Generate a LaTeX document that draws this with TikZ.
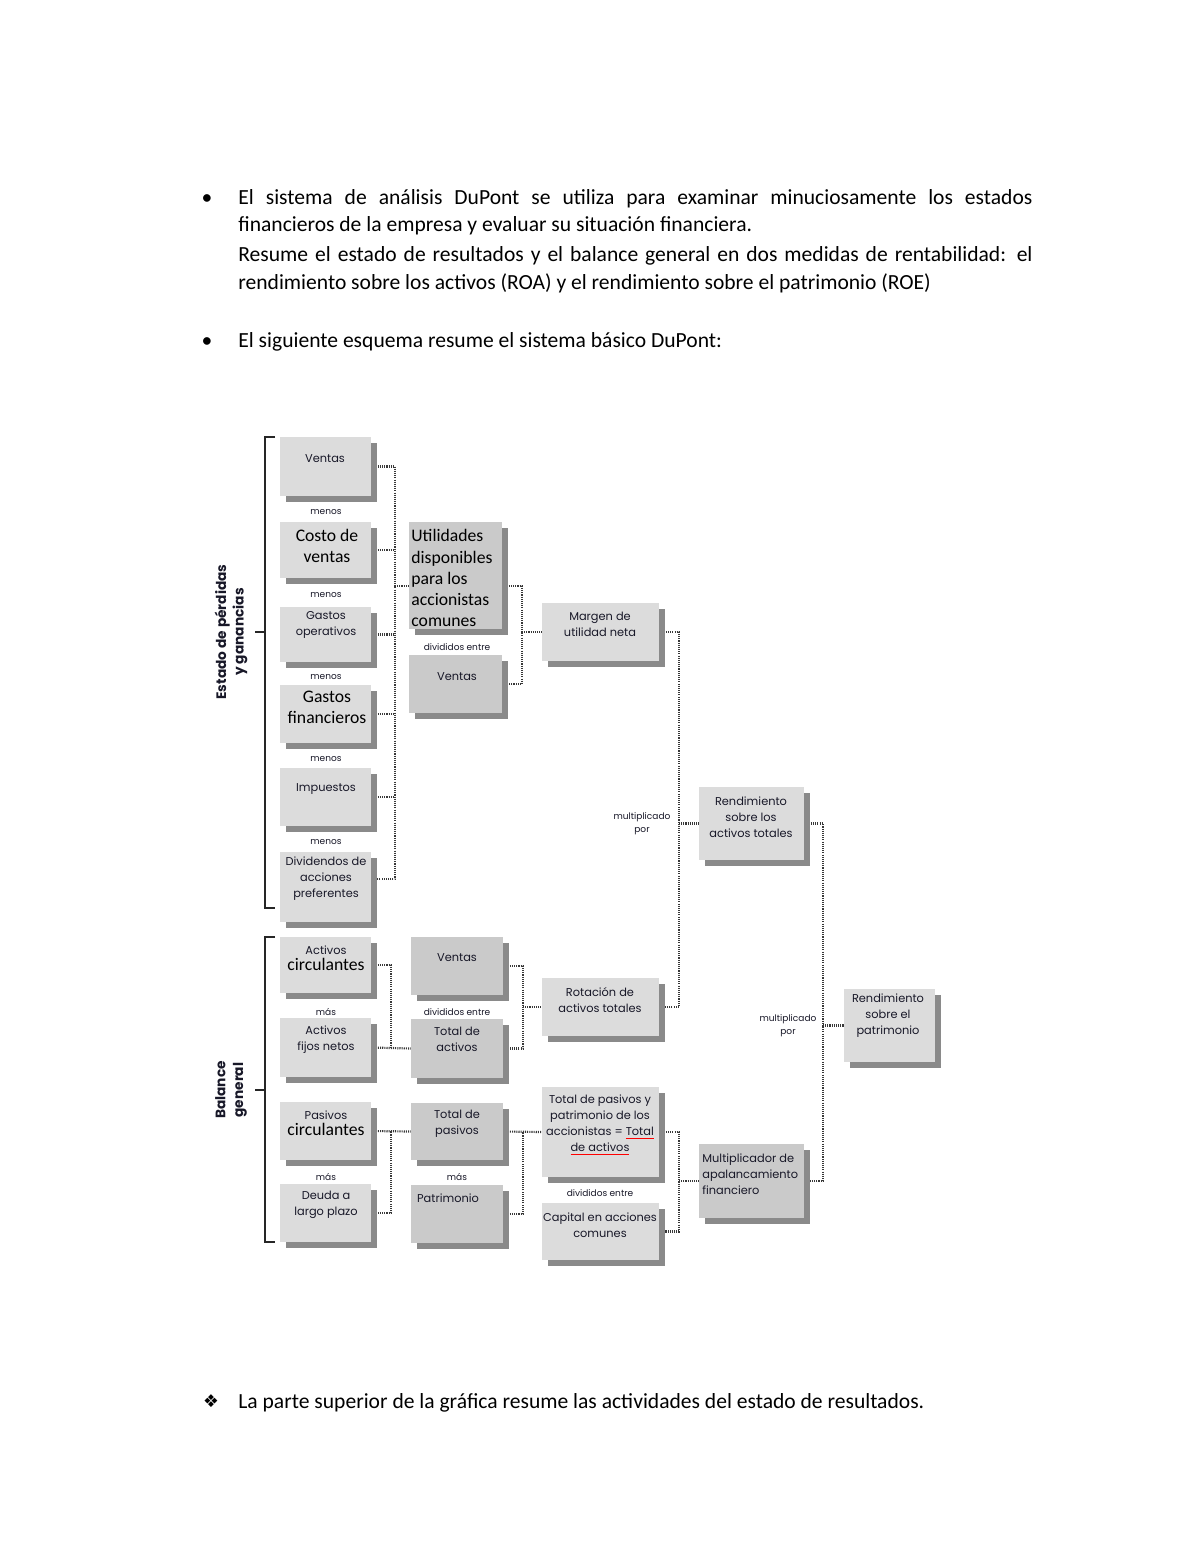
\documentclass[tikz,border=0pt]{standalone}
\usepackage{fontspec}
\setmainfont{Carlito}
\newfontfamily\pop{Poppins}
\newfontfamily\carl{Carlito}
\newfontfamily\djv{DejaVu Sans}
\usetikzlibrary{shadows}
\definecolor{lite}{HTML}{DCDCDC}
\definecolor{darkb}{HTML}{CACACA}
\definecolor{shd}{HTML}{8A8A8A}
\definecolor{ink}{HTML}{181828}
\definecolor{dotc}{HTML}{383838}
\pgfdeclarelayer{bg}
\pgfsetlayers{bg,main}
\newcommand\fa{\pop\fontsize{5.8}{8.2}\selectfont}
\newcommand\fs{\pop\fontsize{4.6}{6.8}\selectfont}
\newcommand\fc{\carl\fontsize{9}{10.8}\selectfont\color{black}}
\newcommand\ctab[1]{{\fc\begin{tabular}{@{}c@{}}#1\end{tabular}}}
\newcommand\redul[1]{\setbox0=\hbox{#1}\rlap{\color{red}\rule[-1.6pt]{\wd0}{0.6pt}}\box0}
\newcommand\dbox[9]{%
  \node[boxbase,fill=#6,minimum width={(#4-#2)*0.51pt},minimum height={(#5-#3)*0.51pt}] (#1) at ({(#2+#4)/2},{(#3+#5)/2}) {};
  \node[lbl] (#1t) at (#7,#8) {#9};}
\tikzset{
  boxbase/.style={rectangle,inner sep=0pt,draw=none,
    drop shadow={shadow xshift=3pt,shadow yshift=-3pt,fill=shd,opacity=1}},
  lbl/.style={inner sep=0pt,align=center,font=\fa,text=ink},
  sm/.style={inner sep=0pt,align=center,font=\fs,text=ink},
  conn/.style={draw=dotc,line width=1.1pt,dash pattern=on 0.55pt off 0.55pt},
  brk/.style={draw=black!85,line width=1pt},
  body/.style={anchor=base west,inner sep=0pt,font=\carl\fontsize{11}{13.4}\selectfont},
  blt/.style={anchor=base,inner sep=0pt,font=\carl\fontsize{11}{13.4}\selectfont}
}
\begin{document}
\begin{tikzpicture}[x=0.51pt,y=-0.51pt]
\useasboundingbox (0,0) rectangle (1200,1553);
\begin{pgfonlayer}{bg}
\fill[white] (0,0) rectangle (1200,1553);
\end{pgfonlayer}

% body text
\node[blt] (b1) at (207,204) {\textbullet};
\node[body] (l1) at (238,204) {\makebox[405pt][s]{El sistema de análisis DuPont se utiliza para examinar minuciosamente los estados}};
\node[body] (l2) at (238,232) {financieros de la empresa y evaluar su situación financiera.};
\node[body] (l3) at (238,261) {\makebox[405pt][s]{Resume el estado de resultados y el balance general en dos medidas de rentabilidad: el}};
\node[body] (l4) at (238,289) {rendimiento sobre los activos (ROA) y el rendimiento sobre el patrimonio (ROE)};
\node[blt] (b2) at (207,347) {\textbullet};
\node[body] (l5) at (238,347) {El siguiente esquema resume el sistema básico DuPont:};
\node[inner sep=0pt,font=\djv\fontsize{9}{11}\selectfont] (b3) at (211,1401) {❖};
\node[body] (l6) at (238,1408) {La parte superior de la gráfica resume las actividades del estado de resultados.};

% boxes: left column
\dbox{ventasA}{280}{437}{371}{496}{lite}{325}{459}{Ventas}
\dbox{costo}{280}{522}{371}{578}{lite}{327}{548}{\ctab{Costo de\\ventas}}
\dbox{gop}{280}{607}{371}{662}{lite}{326}{625}{Gastos\\operativos}
\dbox{gfin}{280}{685}{371}{743}{lite}{327}{709}{\ctab{Gastos\\financieros}}
\dbox{imp}{280}{768}{371}{826}{lite}{326}{789}{Impuestos}
\dbox{divp}{280}{852}{371}{922}{lite}{326}{879}{Dividendos de\\acciones\\preferentes}
\dbox{acirc}{280}{937}{371}{993}{lite}{326}{958}{Activos\\\fc circulantes}
\dbox{afij}{280}{1018}{371}{1077}{lite}{326}{1040}{Activos\\fijos netos}
\dbox{pcirc}{280}{1102}{371}{1160}{lite}{326}{1123}{Pasivos\\\fc circulantes}
\dbox{deuda}{280}{1184}{371}{1242}{lite}{326}{1205}{Deuda a\\largo plazo}

% second column
\node[boxbase,fill=darkb,minimum width={93*0.51pt},minimum height={107*0.51pt}] (util) at (455.5,575.5) {};
\node[inner sep=0pt,anchor=west,font=\fc] (utilt) at (411,580) {\begin{tabular}{@{}l@{}}Utilidades\\disponibles\\para los\\accionistas\\comunes\end{tabular}};
\dbox{ventasB}{409}{655}{502}{713}{darkb}{457}{677}{Ventas}
\dbox{ventasC}{411}{937}{503}{995}{darkb}{457}{958}{Ventas}
\dbox{tact}{411}{1019}{503}{1078}{darkb}{457}{1039}{Total de\\activos}
\dbox{tpas}{411}{1103}{503}{1160}{darkb}{457}{1124}{Total de\\pasivos}
\dbox{patr}{411}{1185}{503}{1243}{darkb}{448}{1198}{Patrimonio}

% third column
\dbox{margen}{542}{603}{659}{661}{lite}{600}{624}{Margen de\\utilidad neta}
\dbox{rot}{542}{978}{659}{1036}{lite}{600}{1000}{Rotación de\\activos totales}
\dbox{tpp}{542}{1087}{659}{1177}{lite}{600}{1125}{Total de pasivos y\\patrimonio de los\\accionistas = \redul{Total}\\\redul{de activos}}
\dbox{cap}{542}{1203}{659}{1260}{lite}{600}{1225}{Capital en acciones\\comunes}

% fourth / fifth columns
\dbox{roa}{699}{787}{804}{860}{lite}{751}{817}{Rendimiento\\sobre los\\activos totales}
\node[boxbase,fill=darkb,minimum width={105*0.51pt},minimum height={74*0.51pt}] (mult) at (751.5,1181) {};
\node[inner sep=0pt,anchor=west,font=\fa,text=ink] (multt) at (702,1175) {\begin{tabular}{@{}l@{}}Multiplicador de\\apalancamiento\\financiero\end{tabular}};
\dbox{roe}{844}{989}{935}{1062}{lite}{888}{1016}{Rendimiento\\sobre el\\patrimonio}

% small labels
\node[sm] (m1) at (326,512) {menos};
\node[sm] (m2) at (326,595) {menos};
\node[sm] (m3) at (326,677) {menos};
\node[sm] (m4) at (326,759) {menos};
\node[sm] (m5) at (326,842) {menos};
\node[sm] (d1) at (457,647) {divididos entre};
\node[sm] (x1) at (642,824) {multiplicado\\por};
\node[sm] (x2) at (788,1026) {multiplicado\\por};
\node[sm] (p1) at (326,1012) {más};
\node[sm] (d2) at (457,1012) {divididos entre};
\node[sm] (p2) at (326,1177) {más};
\node[sm] (p3) at (457,1177) {más};
\node[sm] (d3) at (600,1193) {divididos entre};

% brackets
\draw[brk] (275,437) -- (265,437) -- (265,908) -- (275,908);
\draw[brk] (265,632) -- (255,632);
\draw[brk] (275,937) -- (265,937) -- (265,1242) -- (275,1242);
\draw[brk] (265,1090) -- (255,1090);
\node[rotate=90,inner sep=0pt,align=center,font=\pop\bfseries\fontsize{7}{9}\selectfont,text=ink] (lab1) at (231,632) {Estado de pérdidas\\y ganancias};
\node[rotate=90,inner sep=0pt,align=center,font=\pop\bfseries\fontsize{7}{9}\selectfont,text=ink] (lab2) at (231,1090) {Balance\\general};

% junctions
\coordinate (jA) at (395,586);
\coordinate (jB) at (522,632);
\coordinate (jC) at (679,823.5);
\coordinate (jD) at (823,1025.5);
\coordinate (jE) at (391,1047.5);
\coordinate (jF) at (523,1007);
\coordinate (jG) at (391,1131);
\coordinate (jH) at (523,1131.5);
\coordinate (jI) at (679,1181);

\begin{pgfonlayer}{bg}
\draw[conn] (ventasA.east) -| (jA) |- ([yshift=4pt]divp.east);
\draw[conn] (costo.east) -- (costo.east -| jA);
\draw[conn] (gop.east) -- (gop.east -| jA);
\draw[conn] (gfin.east) -- (gfin.east -| jA);
\draw[conn] (imp.east) -- (imp.east -| jA);
\draw[conn] (jA) -- (util.west |- jA);
\draw[conn] (util.east |- jA) -| (jB) |- (ventasB.east);
\draw[conn] (jB) -- (margen.west);
\draw[conn] (margen.east) -| (jC) |- (rot.east);
\draw[conn] (jC) -- (roa.west);
\draw[conn] (roa.east) -| (jD) |- (mult.east);
\draw[conn] (jD) -- (roe.west);
\draw[conn] (acirc.east) -| (jE);
\draw[conn] (afij.east) -- (tact.west);
\draw[conn] (ventasC.east) -| (jF) |- (tact.east);
\draw[conn] (jF) -- (rot.west);
\draw[conn] (pcirc.east) -- (tpas.west);
\draw[conn] (deuda.east) -| (jG);
\draw[conn] (tpas.east) -- (tpp.west);
\draw[conn] (patr.east) -| (jH);
\draw[conn] (tpp.east) -| (jI) |- (cap.east);
\draw[conn] (jI) -- (mult.west);
\end{pgfonlayer}
\end{tikzpicture}
\end{document}
